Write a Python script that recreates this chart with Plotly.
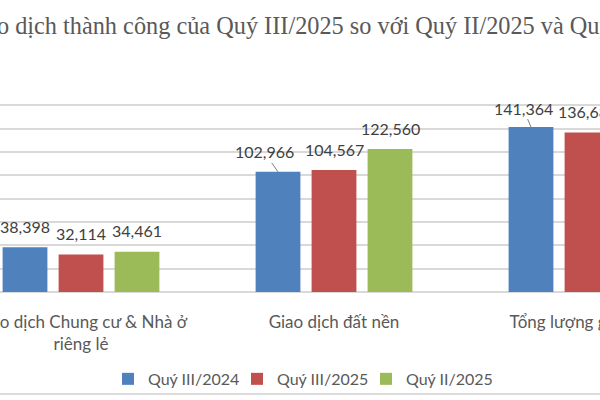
import plotly.graph_objects as go

categories = ["Giao dịch Chung cư & Nhà ở<br>riêng lẻ", "Giao dịch đất nền", "Tổng lượng giao dịch"]
series_names = ["Quý III/2024", "Quý III/2025", "Quý II/2025"]
q3_2024 = [38398, 102966, 141364]
q3_2025 = [32114, 104567, 136681]
q2_2025 = [34461, 122560, 157021]
colors = ["#4F81BD", "#C0504D", "#9BBB59"]
title_text = "Lượng giao dịch thành công của Quý III/2025 so với Quý II/2025 và Quý III/2024"

BARGAP = 0.336
BARGROUPGAP = 0.2
FONT = "Lato"
TXT = "#404040"

series = [q3_2024, q3_2025, q2_2025]
fig = go.Figure()
for name, vals, col in zip(series_names, series, colors):
    fig.add_trace(go.Bar(
        x=categories, y=vals, name=name,
        marker=dict(color=col, line=dict(width=0)),
        hoverinfo="skip",
    ))

# data labels (leader lines on a couple of them)
leader = {(0, 1): (-14, -20), (0, 2): (-8, -19)}
slot = (1 - BARGAP) / len(series)
annotations = []
for j, vals in enumerate(series):
    for i, v in enumerate(vals):
        xpos = i + (j - 1) * slot
        if (j, i) in leader:
            ax, ay = leader[(j, i)]
            annotations.append(dict(
                x=xpos, y=v, xref="x", yref="y", text=f"{v:,}",
                showarrow=True, arrowhead=0, arrowwidth=1, arrowcolor="#7F7F7F",
                ax=ax, ay=ay, standoff=0,
                font=dict(family=FONT, size=16, color=TXT),
            ))
        else:
            annotations.append(dict(
                x=xpos, y=v, xref="x", yref="y", text=f"{v:,}",
                showarrow=False, yshift=21,
                font=dict(family=FONT, size=16, color=TXT),
            ))

annotations.append(dict(
    x=0.4945, y=1.27, xref="paper", yref="paper", text=title_text,
    showarrow=False, xanchor="center", yanchor="middle",
    font=dict(family="Liberation Serif", size=24.3, color="#595959"),
))
fig.update_layout(annotations=annotations)

fig.add_shape(type="line", xref="paper", yref="paper", x0=-0.1, x1=1.1,
              y0=-0.486, y1=-0.486, line=dict(color="#DCDCDC", width=2))

fig.update_layout(
    width=600, height=400,
    margin=dict(l=0, r=0, t=82, b=108, autoexpand=False),
    plot_bgcolor="white", paper_bgcolor="white",
    barmode="group", bargap=BARGAP, bargroupgap=BARGROUPGAP,
    font=dict(family=FONT, size=16, color="#595959"),
    showlegend=True,
    legend=dict(orientation="h", x=0.18, xanchor="left", y=-0.414, yanchor="middle",
                font=dict(family=FONT, size=16, color="#595959"),
                entrywidth=84, entrywidthmode="pixels", itemwidth=30,
                bgcolor="rgba(0,0,0,0)"),
    xaxis=dict(type="category", range=[-0.3202, 2.0514], showgrid=False,
               ticks="", showline=False, ticklabelstandoff=18, automargin=False,
               tickfont=dict(family=FONT, size=17, color="#595959")),
    yaxis=dict(range=[0, 180001], dtick=20000, showticklabels=False, automargin=False,
               showgrid=True, gridcolor="#D9D9D9", gridwidth=1.5,
               zeroline=True, zerolinecolor="#D9D9D9", zerolinewidth=1.5,
               showline=False),
)

fig.write_html(
    "out.html",
    config={"displayModeBar": False},
    post_script="document.body.style.margin='0';document.body.style.overflow='hidden';",
)
